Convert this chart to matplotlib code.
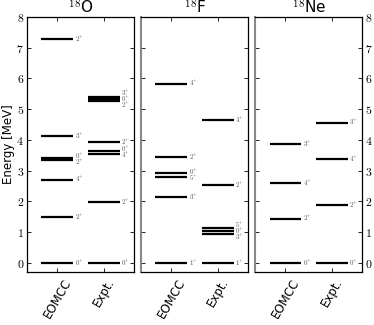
import matplotlib
matplotlib.use("Agg")
import matplotlib.pyplot as plt
import numpy as np

plt.rcParams['mathtext.fontset'] = 'cm'
plt.rcParams['font.family'] = 'DejaVu Sans'

nuclei = [r'$^{18}$O', r'$^{18}$F', r'$^{18}$Ne']
columns = ['EOMCC', 'Expt.']

o_eom_E = [0.0, 1.50, 2.71, 3.36, 3.40, 4.12, 7.29]
o_eom_J = ['0', '2', '4', '2', '0', '3', '2']
o_exp_E = [0.0, 1.98, 3.55, 3.63, 3.92, 5.26, 5.33, 5.38]
o_exp_J = ['0', '2', '4', '0', '2', '2', '0', '3']

f_eom_E = [0.0, 2.15, 2.78, 2.92, 3.44, 5.83]
f_eom_J = ['1', '3', '5', '0', '2', '4']
f_exp_E = [0.0, 0.94, 1.04, 1.12, 2.52, 4.65]
f_exp_J = ['1', '3', '0', '5', '2', '4']

ne_eom_E = [0.0, 1.44, 2.60, 3.85]
ne_eom_J = ['0', '2', '4', '3']
ne_exp_E = [0.0, 1.89, 3.38, 4.56]
ne_exp_J = ['0', '2', '4', '3']

data = [
    [(o_eom_E, o_eom_J), (o_exp_E, o_exp_J)],
    [(f_eom_E, f_eom_J), (f_exp_E, f_exp_J)],
    [(ne_eom_E, ne_eom_J), (ne_exp_E, ne_exp_J)],
]

def spread(vals, d=0.19):
    order = np.argsort(vals)
    p = np.array(vals, float)[order]
    for _ in range(300):
        for i in range(len(p) - 1):
            gap = p[i + 1] - p[i]
            if gap < d:
                s = (d - gap) / 2
                p[i] -= s
                p[i + 1] += s
    out = np.empty_like(p)
    out[order] = p
    return out

fig = plt.figure(figsize=(3.74, 3.25), dpi=100)
lefts = [0.072, 0.377, 0.682]
w = 0.287
bottom, top = 0.163, 0.948
hw = 0.34
for k in range(3):
    ax = fig.add_axes([lefts[k], bottom, w, top - bottom])
    for c, (E, J) in enumerate(data[k]):
        xc = c + 1
        ax.hlines(E, xc - hw, xc + hw, color='black', lw=1.6)
        ly = spread(E)
        for e, j, yy in zip(E, J, ly):
            ax.text(xc + hw + 0.03, yy, r'$%s^{+}$' % j, fontsize=5,
                    color='#555555', va='center', ha='left')
    ax.set_xlim(0.35, 2.65)
    ax.set_ylim(-0.3, 8.0)
    ax.set_xticks([1, 2])
    ax.set_xticklabels(columns, rotation=60, fontsize=8.5)
    ax.set_yticks(range(0, 9))
    ax.tick_params(direction='in', top=True, right=True, length=3, width=0.6, pad=2)
    ax.tick_params(axis='x', pad=3)
    ax.set_title(nuclei[k], fontsize=11, pad=2)
    if k == 0:
        ax.set_yticklabels([r'$%d$' % v for v in range(9)], fontsize=8.5)
        ax.set_ylabel('Energy [MeV]', fontsize=8.5, labelpad=1)
    elif k == 1:
        ax.set_yticklabels([])
    else:
        ax.yaxis.tick_right()
        ax.tick_params(axis='y', direction='in', left=True, right=True, length=3, width=0.6, pad=2)
        ax.set_yticklabels([r'$%d$' % v for v in range(9)], fontsize=8.5)
    for s in ax.spines.values():
        s.set_linewidth(0.9)
    if k > 0:
        ax.spines['left'].set_color('#888888')
        ax.spines['left'].set_linewidth(1.5)

fig.savefig('out.png', dpi=100)
